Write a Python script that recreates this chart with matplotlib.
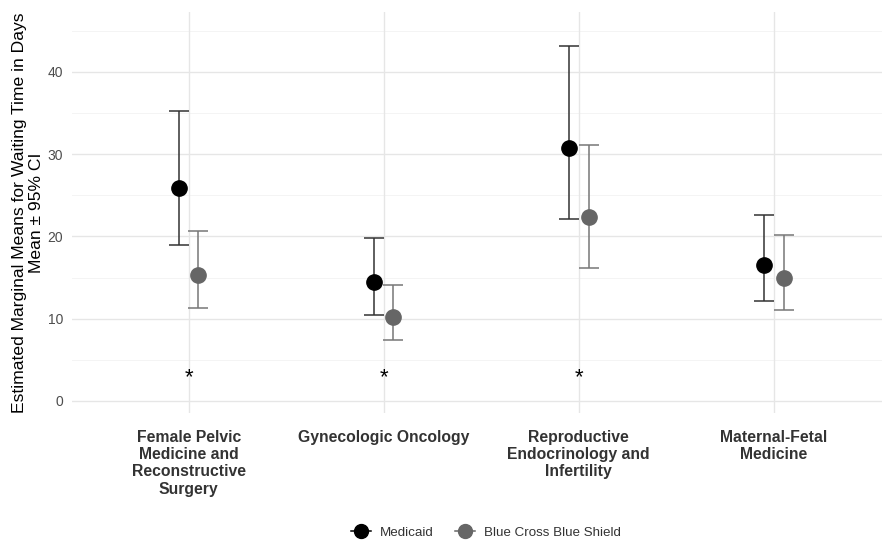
import numpy as np
import matplotlib.pyplot as plt
from matplotlib.lines import Line2D

plt.rcParams["font.family"] = ["Liberation Sans", "DejaVu Sans"]

# Data
categories = ["Female Pelvic\nMedicine and\nReconstructive\nSurgery",
              "Gynecologic Oncology",
              "Reproductive\nEndocrinology and\nInfertility",
              "Maternal-Fetal\nMedicine"]
medicaid_mean = [25.9, 14.5, 30.8, 16.5]
medicaid_lo = [19.0, 10.45, 22.1, 12.15]
medicaid_hi = [35.2, 19.8, 43.1, 22.6]
bcbs_mean = [15.3, 10.2, 22.4, 14.9]
bcbs_lo = [11.3, 7.4, 16.2, 11.1]
bcbs_hi = [20.7, 14.1, 31.1, 20.2]
signif = [True, True, True, False]
star_y = 3.4

fig = plt.figure(figsize=(8.82, 5.4), dpi=100)
ax = fig.add_axes([0.0813, 0.2352, 0.9187, 0.7431])

x = np.arange(1, len(categories) + 1)
dodge = 0.05

# grid like ggplot theme_minimal
for v in np.arange(5, 50, 10):
    ax.axhline(v, color="#F2F2F2", lw=0.6, zorder=0)
for v in np.arange(0, 50, 10):
    ax.axhline(v, color="#E6E6E6", lw=1.0, zorder=0)
for v in x:
    ax.axvline(v, color="#E6E6E6", lw=1.0, zorder=0)

series = [
    (medicaid_mean, medicaid_lo, medicaid_hi, -dodge, "black", "#333333"),
    (bcbs_mean, bcbs_lo, bcbs_hi, dodge, "#666666", "#777777"),
]
for mean, lo, hi, off, col, ecol in series:
    mean = np.array(mean)
    err = [mean - np.array(lo), np.array(hi) - mean]
    ax.errorbar(x + off, mean, yerr=err, fmt="none", ecolor=ecol,
                elinewidth=1.1, capsize=7, capthick=1.1, zorder=2)
    ax.plot(x + off, mean, "o", color=col, markersize=11, zorder=3)

for xi, s in zip(x, signif):
    if s:
        ax.text(xi, star_y - 0.6, "*", ha="center", va="center", fontsize=16,
                color="black")

ax.set_xlim(0.4, 4.555)
ax.set_ylim(-1.46, 47.3)
ax.set_yticks([0, 10, 20, 30, 40])
ax.set_xticks(x)
ax.set_xticklabels(categories, fontweight="bold", fontsize=11.3,
                   color="#333333", va="top", linespacing=1.2)
ax.tick_params(axis="x", length=0, pad=12)
ax.tick_params(axis="y", length=0, labelsize=10, labelcolor="#4D4D4D", pad=6)
for sp in ax.spines.values():
    sp.set_visible(False)

ax.set_ylabel("Estimated Marginal Means for Waiting Time in Days\nMean ± 95% CI",
              fontsize=12.6, color="black", linespacing=1.1, labelpad=3)

handles = [
    Line2D([0], [0], color="black", marker="o", markersize=10, lw=1.1),
    Line2D([0], [0], color="#666666", marker="o", markersize=10, lw=1.1),
]
fig.legend(handles, ["Medicaid", "Blue Cross Blue Shield"], loc="center",
           bbox_to_anchor=(0.551, 0.014), ncol=2, frameon=False,
           fontsize=9.6, handlelength=1.5, columnspacing=1.6, handletextpad=0.7,
           labelcolor="#333333")

fig.savefig("out.png", dpi=100)
